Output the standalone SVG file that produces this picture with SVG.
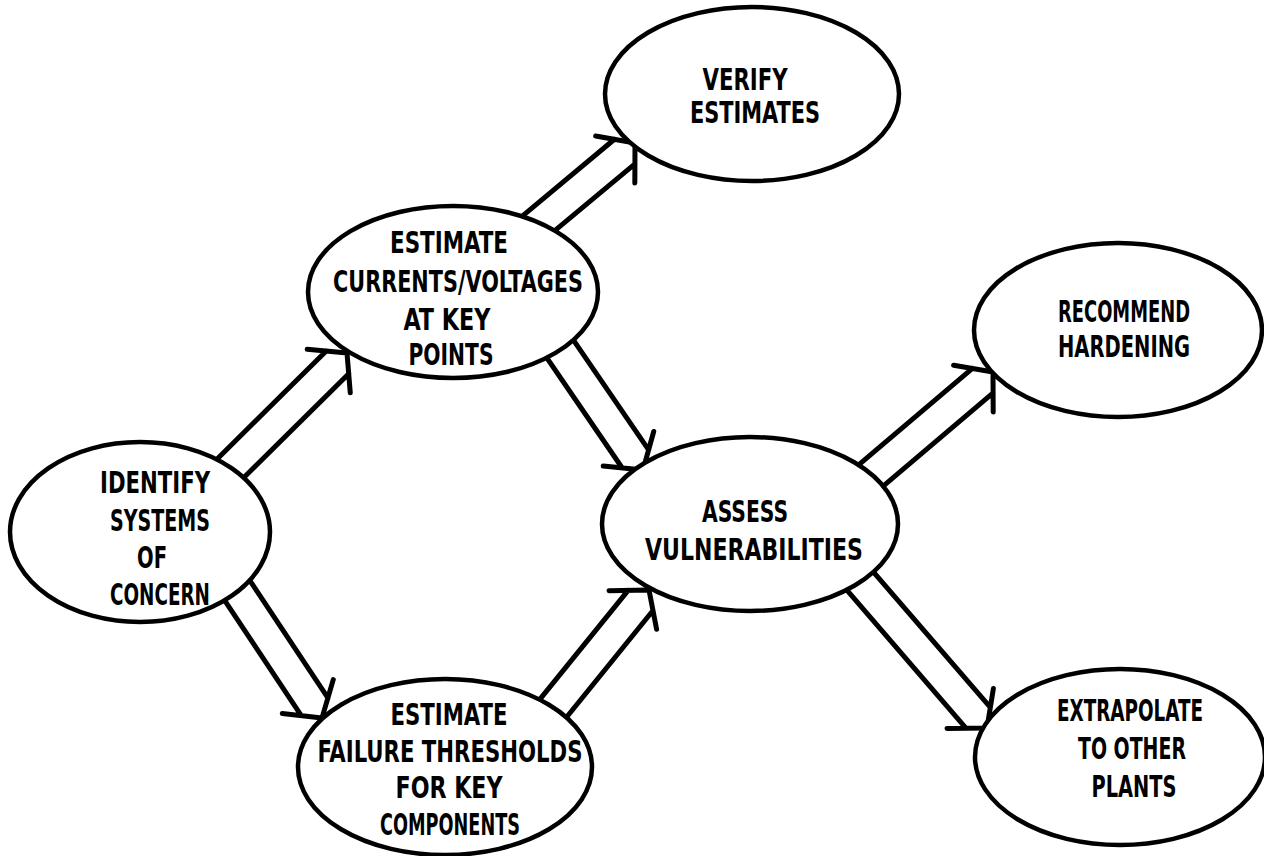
<svg xmlns="http://www.w3.org/2000/svg" width="1264" height="856" viewBox="0 0 1264 856">
<style>
.node{fill:#fff;stroke:#000;stroke-width:4.5}
.conn path{fill:none;stroke:#000;stroke-width:5;stroke-linecap:round;stroke-linejoin:round}
text{font-family:"DejaVu Sans Condensed","DejaVu Sans","Liberation Sans",sans-serif;font-weight:bold;font-size:31px;fill:#000;text-anchor:middle}
</style>
<rect width="1264" height="856" fill="#fff"/>
<g id="connectors" class="conn">
<path transform="translate(347,353) rotate(-44.7)" d="M-181,-16 L-13.4,-16 M-181,16 L-13.4,16 M-25.7,-30.6 L0,0 L-25.7,30.6"/>
<path transform="translate(635,143) rotate(-39.8)" d="M-147,-16 L-13.4,-16 M-147,16 L-13.4,16 M-25.7,-30.6 L0,0 L-25.7,30.6"/>
<path transform="translate(643,470) rotate(55.6)" d="M-168,-16 L-13.4,-16 M-168,16 L-13.4,16 M-25.7,-30.6 L0,0 L-25.7,30.6"/>
<path transform="translate(322,718) rotate(56.4)" d="M-166,-16 L-13.4,-16 M-166,16 L-13.4,16 M-25.7,-30.6 L0,0 L-25.7,30.6"/>
<path transform="translate(649,590) rotate(-51)" d="M-173,-16 L-13.4,-16 M-173,16 L-13.4,16 M-25.7,-30.6 L0,0 L-25.7,30.6"/>
<path transform="translate(993,372) rotate(-40.3)" d="M-185,-16 L-13.4,-16 M-185,16 L-13.4,16 M-25.7,-30.6 L0,0 L-25.7,30.6"/>
<path transform="translate(987,728) rotate(49.2)" d="M-215,-16 L-13.4,-16 M-215,16 L-13.4,16 M-25.7,-30.6 L0,0 L-25.7,30.6"/>
</g>
<g id="verify">
<ellipse class="node" cx="752" cy="94" rx="147" ry="87"/>
<text x="745" y="90" textLength="85" lengthAdjust="spacingAndGlyphs">VERIFY</text>
<text x="755" y="123" textLength="130" lengthAdjust="spacingAndGlyphs">ESTIMATES</text>
</g>
<g id="currents">
<ellipse class="node" cx="453" cy="292" rx="145" ry="86"/>
<text x="449" y="253" textLength="118" lengthAdjust="spacingAndGlyphs">ESTIMATE</text>
<text x="458" y="292" textLength="250" lengthAdjust="spacingAndGlyphs">CURRENTS/VOLTAGES</text>
<text x="447" y="330" textLength="87" lengthAdjust="spacingAndGlyphs">AT KEY</text>
<text x="451" y="365" textLength="85" lengthAdjust="spacingAndGlyphs">POINTS</text>
</g>
<g id="identify">
<ellipse class="node" cx="140" cy="532" rx="130" ry="90"/>
<text x="155" y="493" textLength="110" lengthAdjust="spacingAndGlyphs">IDENTIFY</text>
<text x="160" y="531" textLength="100" lengthAdjust="spacingAndGlyphs">SYSTEMS</text>
<text x="152" y="568" textLength="30" lengthAdjust="spacingAndGlyphs">OF</text>
<text x="160" y="605" textLength="100" lengthAdjust="spacingAndGlyphs">CONCERN</text>
</g>
<g id="assess">
<ellipse class="node" cx="750" cy="524" rx="148" ry="87"/>
<text x="745" y="522" textLength="86" lengthAdjust="spacingAndGlyphs">ASSESS</text>
<text x="754" y="560" textLength="218" lengthAdjust="spacingAndGlyphs">VULNERABILITIES</text>
</g>
<g id="recommend">
<ellipse class="node" cx="1118" cy="330" rx="144" ry="87"/>
<text x="1124" y="322" textLength="132" lengthAdjust="spacingAndGlyphs">RECOMMEND</text>
<text x="1124" y="357" textLength="132" lengthAdjust="spacingAndGlyphs">HARDENING</text>
</g>
<g id="failure">
<ellipse class="node" cx="445" cy="767" rx="147" ry="88"/>
<text x="449" y="725" textLength="117" lengthAdjust="spacingAndGlyphs">ESTIMATE</text>
<text x="450" y="762" textLength="265" lengthAdjust="spacingAndGlyphs">FAILURE THRESHOLDS</text>
<text x="449" y="798" textLength="107" lengthAdjust="spacingAndGlyphs">FOR KEY</text>
<text x="450" y="835" textLength="140" lengthAdjust="spacingAndGlyphs">COMPONENTS</text>
</g>
<g id="extrapolate">
<ellipse class="node" cx="1120" cy="757" rx="145" ry="88"/>
<text x="1130" y="721" textLength="146" lengthAdjust="spacingAndGlyphs">EXTRAPOLATE</text>
<text x="1132" y="759" textLength="108" lengthAdjust="spacingAndGlyphs">TO OTHER</text>
<text x="1134" y="797" textLength="85" lengthAdjust="spacingAndGlyphs">PLANTS</text>
</g>
</svg>
